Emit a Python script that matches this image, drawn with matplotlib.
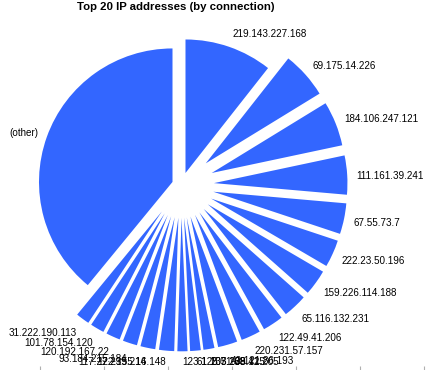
import matplotlib
matplotlib.use("Agg")
import matplotlib.pyplot as plt
import numpy as np

title = "Top 20 IP addresses (by connection)"
labels = [
    "219.143.227.168", "69.175.14.226", "184.106.247.121", "111.161.39.241",
    "67.55.73.7", "222.23.50.196", "159.226.114.188", "65.116.132.231",
    "122.49.41.206", "220.231.57.157", "42.121.86.193", "203.208.41.205",
    "61.135.169.125", "123.125.71.38", "122.155.16.148", "117.27.239.214",
    "93.184.215.184", "120.192.167.22", "101.78.154.120", "31.222.190.113",
    "(other)",
]
# share of connections (percent)
values = [
    10.61, 5.64, 5.42, 4.72, 3.72, 3.31, 3.11, 2.92, 2.50, 2.36, 2.36,
    1.33, 1.28, 1.22, 1.83, 1.80, 1.75, 1.72, 1.69, 1.65, 39.06,
]

BLUE = "#3366FF"
W, H, DPI = 430, 370, 100
fig = plt.figure(figsize=(W / DPI, H / DPI), dpi=DPI)
ax = fig.add_axes([0, 0, 1, 1])

R = 133.5
cx, cy = 181.3, H - 185.1   # pie centre in pixels (from bottom-left)
explode_frac = [0.096] + [0.245] * 19 + [0.07]
explode = [e * R for e in explode_frac]

wedges, texts = ax.pie(
    values, labels=labels, colors=[BLUE] * len(values), explode=explode,
    startangle=90, counterclock=False, radius=R, center=(0, 0),
    labeldistance=1.07, wedgeprops=dict(linewidth=0),
    textprops=dict(family="Liberation Sans", fontsize=7.1, color="black"),
)
# labels sit on the side of their anchor that faces away from the pie,
# but stay inside the picture
y_floor = 8 - cy
for w, t in zip(wedges, texts):
    m = np.deg2rad(0.5 * (w.theta1 + w.theta2))
    x, y = t.get_position()
    t.set_position((x, max(y + 6 * np.sin(m) - 1.5, y_floor)))

ax.set_xlim(-cx, W - cx)
ax.set_ylim(-cy, H - cy)
ax.set_aspect("equal")
ax.axis("off")

fig.text(176 / W, 1 - 7.5 / H, title, ha="center", va="center",
         family="Liberation Sans", fontweight="bold", fontsize=8.2)

# faint tick marks along the bottom edge
tax = fig.add_axes([0, 0, 1, 1], facecolor="none")
tax.set_xlim(0, W)
tax.set_ylim(0, H)
tax.set_xticks(np.arange(40, W, 64))
tax.set_yticks([])
tax.tick_params(axis="x", direction="in", length=3, width=0.8,
                color="#b0b0b0", labelbottom=False)
for s in tax.spines.values():
    s.set_visible(False)

fig.savefig("out.png", dpi=DPI)
